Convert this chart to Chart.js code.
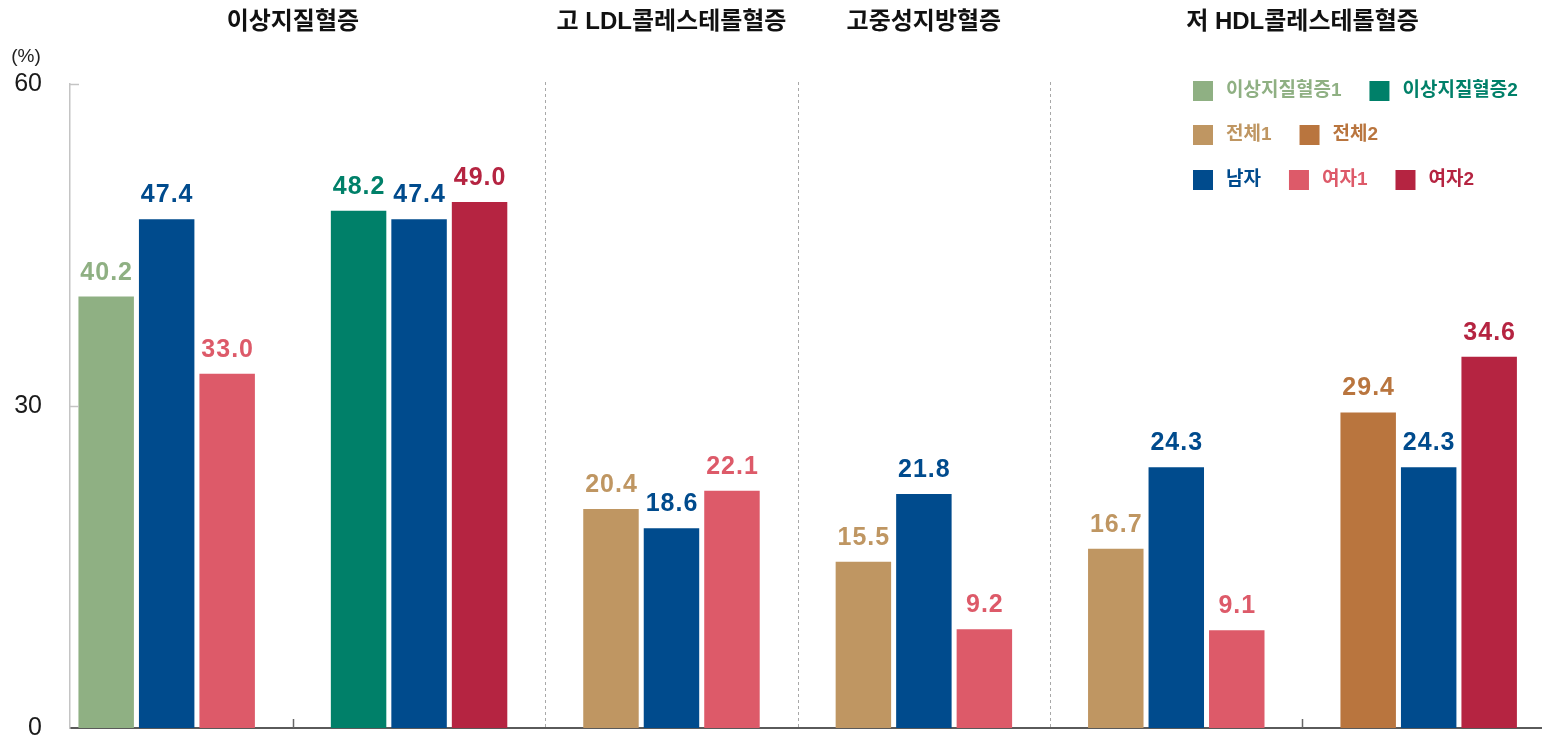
<!DOCTYPE html>
<html lang="ko">
<head>
<meta charset="utf-8">
<title>이상지질혈증 유병률</title>
<script src="https://cdn.jsdelivr.net/npm/chart.js@4.4.1/dist/chart.umd.min.js"></script>
<style>
  html, body { margin: 0; padding: 0; background: #fff; }
  #wrap { position: relative; width: 1548px; height: 739px; }
</style>
</head>
<body>
<div id="wrap"><canvas id="chart"></canvas></div>
<script>
// bar clusters along the x axis and the section each one sits in
const clusters = ['이상지질혈증 (1)', '이상지질혈증 (2)', '고 LDL콜레스테롤혈증', '고중성지방혈증', '저 HDL콜레스테롤혈증 (1)', '저 HDL콜레스테롤혈증 (2)'];
const sections = ['이상지질혈증', '고 LDL콜레스테롤혈증', '고중성지방혈증', '저 HDL콜레스테롤혈증'];
const sectionOf = [0, 0, 1, 2, 3, 3];

// one value per cluster, null where the series has no bar
const seriesNames = ['이상지질혈증1', '이상지질혈증2', '전체1', '전체2', '남자', '여자1', '여자2'];
const dyslipidemia1 = [40.2, null, null, null, null, null];
const dyslipidemia2 = [null, 48.2, null, null, null, null];
const total1 = [null, null, 20.4, 15.5, 16.7, null];
const total2 = [null, null, null, null, null, 29.4];
const male = [47.4, 47.4, 18.6, 21.8, 24.3, 24.3];
const female1 = [33.0, null, 22.1, 9.2, 9.1, null];
const female2 = [null, 49.0, null, null, null, 34.6];

const yTicks = [0, 30, 60];
const unitLabel = '(%)';

const seriesValues = [dyslipidemia1, dyslipidemia2, total1, total2, male, female1, female2];
const seriesColors = ['#8FB083', '#008069', '#BF9662', '#B9753E', '#004B8D', '#DD5A69', '#B52441'];
const legendRows = [['이상지질혈증1', '이상지질혈증2'], ['전체1', '전체2'], ['남자', '여자1', '여자2']];

// latin letters and digits from Liberation Sans, hangul falls through to Noto CJK
const KR = '"Liberation Sans", "Noto Sans CJK KR", sans-serif';
const NUM = '"Liberation Sans", Arial, sans-serif';

const colorOf = name => seriesColors[seriesNames.indexOf(name)];

const decorations = {
    id: 'decorations',
    beforeDatasetsDraw(chart) {
        const { ctx, chartArea: a, scales: { x } } = chart;
        ctx.save();
        for (let i = 1; i < clusters.length; i++) {
            const px = Math.round(x.getPixelForValue(i - 0.5)) + 0.5;
            if (sectionOf[i] !== sectionOf[i - 1]) {
                // dotted line between sections
                ctx.strokeStyle = '#a8a8a8';
                ctx.lineWidth = 1;
                ctx.setLineDash([3, 3]);
                ctx.beginPath();
                ctx.moveTo(px, a.top - 2);
                ctx.lineTo(px, a.bottom);
                ctx.stroke();
            } else {
                // short tick between two clusters of the same section
                ctx.setLineDash([]);
                ctx.strokeStyle = '#666';
                ctx.lineWidth = 1.5;
                ctx.beginPath();
                ctx.moveTo(px, a.bottom - 9);
                ctx.lineTo(px, a.bottom);
                ctx.stroke();
            }
        }
        ctx.restore();
    },
    afterDraw(chart) {
        const { ctx, chartArea: a, scales: { x, y } } = chart;
        ctx.save();

        // inward ticks on the y axis
        ctx.strokeStyle = '#c4c4c4';
        ctx.lineWidth = 1.5;
        yTicks.filter(v => v > 0).forEach(v => {
            const py = Math.round(y.getPixelForValue(v)) + 0.5;
            ctx.beginPath();
            ctx.moveTo(a.left, py);
            ctx.lineTo(a.left + 9, py);
            ctx.stroke();
        });

        // unit
        ctx.fillStyle = '#222';
        ctx.font = '19px ' + NUM;
        ctx.textAlign = 'center';
        ctx.textBaseline = 'middle';
        ctx.fillText(unitLabel, 26, 57);

        // section titles, centred over their clusters
        ctx.fillStyle = '#111';
        ctx.font = 'bold 24px ' + KR;
        sections.forEach((title, s) => {
            const px = clusters.map((_, i) => i).filter(i => sectionOf[i] === s).map(i => x.getPixelForValue(i));
            const cx = px.reduce((p, q) => p + q, 0) / px.length;
            ctx.fillText(title, cx, 22);
        });

        // value labels
        ctx.font = 'bold 25px ' + NUM;
        ctx.letterSpacing = '1px';
        ctx.textBaseline = 'alphabetic';
        chart.data.datasets.forEach((ds, d) => {
            const meta = chart.getDatasetMeta(d);
            meta.data.forEach((bar, i) => {
                const v = ds.data[i].y;
                if (v === null) return;
                ctx.fillStyle = ds.backgroundColor;
                ctx.fillText(v.toFixed(1), bar.x + 0.5, bar.y - 17);
            });
        });
        ctx.letterSpacing = '0px';

        // legend
        const rowTops = [81, 125, 170];
        ctx.font = 'bold 19px ' + KR;
        ctx.textAlign = 'left';
        ctx.textBaseline = 'middle';
        legendRows.forEach((row, r) => {
            let lx = 1193;
            row.forEach(name => {
                ctx.fillStyle = colorOf(name);
                ctx.fillRect(lx, rowTops[r], 20, 20);
                ctx.fillText(name, lx + 33, rowTops[r] + 10);
                lx += 33 + ctx.measureText(name).width + 28;
            });
        });
        ctx.restore();
    }
};

const buildChart = () => {
    const ctx = document.getElementById('chart').getContext('2d');
    new Chart(ctx, {
        type: 'bar',
        data: {
            datasets: seriesNames.map((name, d) => ({
                label: name,
                data: seriesValues[d].map((v, i) => ({ x: i, y: v })),
                backgroundColor: seriesColors[d],
                skipNull: true,
                barPercentage: 0.917,
                categoryPercentage: 0.719
            }))
        },
        options: {
            responsive: true,
            maintainAspectRatio: false,
            animation: false,
            layout: { padding: { top: 84, right: 7, left: 0, bottom: 0 } },
            plugins: { legend: { display: false }, title: { display: false }, tooltip: { enabled: false } },
            scales: {
                x: {
                    type: 'linear',
                    offset: false,
                    min: -0.383,
                    max: 5.445,
                    ticks: { display: false, stepSize: 1, includeBounds: false },
                    grid: { display: false, drawTicks: false },
                    border: { display: true, color: '#5a5a5a', width: 2 },
                    afterFit: s => { s.height = 11; s.paddingLeft = 0; s.paddingRight = 0; }
                },
                y: {
                    min: yTicks[0],
                    max: yTicks[yTicks.length - 1],
                    afterBuildTicks: s => { s.ticks = yTicks.map(v => ({ value: v })); },
                    ticks: { color: '#1a1a1a', font: { family: NUM, size: 25 }, padding: 28 },
                    grid: { display: false, drawTicks: false },
                    border: { display: true, color: '#c4c4c4', width: 1.5 },
                    afterFit: s => { s.width = 70; s.paddingTop = 0; s.paddingBottom = 0; }
                }
            }
        },
        plugins: [decorations]
    });
};

document.addEventListener('DOMContentLoaded', buildChart);
</script>
</body>
</html>
